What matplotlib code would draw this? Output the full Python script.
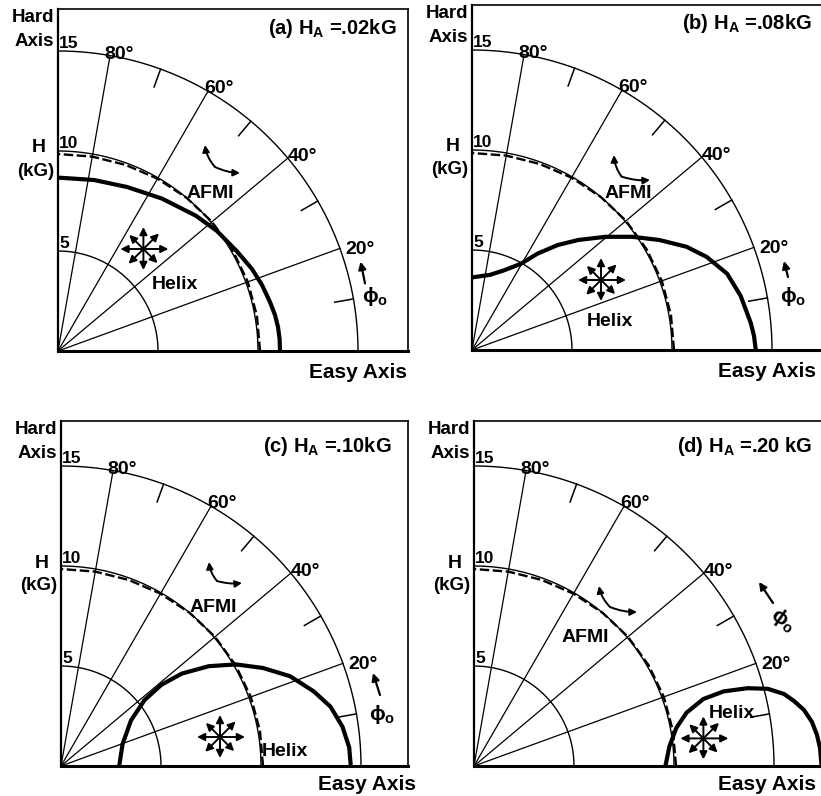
import numpy as np
import matplotlib.pyplot as plt
from matplotlib.patches import FancyArrowPatch

plt.rcParams['font.family'] = ['Liberation Sans', 'DejaVu Sans']
plt.rcParams['font.weight'] = 'bold'
plt.rcParams['mathtext.fontset'] = 'custom'
plt.rcParams['mathtext.rm'] = 'Liberation Sans:bold'
plt.rcParams['mathtext.it'] = 'Liberation Sans:bold'
plt.rcParams['mathtext.bf'] = 'Liberation Sans:bold'

W, H = 821, 796
SCALE = 20.0  # pixels per kG

# polar grid
rings = [5, 10, 15]
ring_labels = ["5", "10", "15"]
spokes = [20, 40, 60, 80]
spoke_labels = ["20°", "40°", "60°", "80°"]
minor_ticks = [10, 30, 50, 70]

# AFMI boundary (dashed), H in kG against field angle
afmi_deg = [0, 10, 20, 30, 40, 50, 60, 70, 80, 90]
afmi_r = [10.1, 10.1, 10.1, 10.08, 10.05, 10.0, 9.95, 9.9, 9.87, 9.85]

# helix boundary (thick), easy / hard components in kG
a_hx = [0.0, 1.8, 3.45, 5.2, 6.9, 7.95, 8.95, 9.7, 10.2, 10.6, 10.85, 11.0, 11.08, 11.1]
a_hy = [8.67, 8.55, 8.2, 7.62, 6.76, 6.0, 4.98, 4.1, 3.3, 2.45, 1.8, 1.2, 0.6, 0.0]

b_hx = [0.0, 0.91, 1.59, 2.44, 3.28, 4.29, 5.31, 6.67, 8.02, 9.37, 10.73, 11.74, 12.76, 13.43, 13.94, 14.1, 14.19]
b_hy = [3.63, 3.76, 3.98, 4.31, 4.82, 5.25, 5.5, 5.66, 5.66, 5.5, 5.16, 4.65, 3.81, 2.71, 1.35, 0.7, 0.0]

c_hx = [2.91, 3.08, 3.5, 4.18, 5.02, 6.04, 7.39, 8.75, 10.1, 11.45, 12.64, 13.48, 14.08, 14.41, 14.49]
c_hy = [0.0, 1.1, 2.28, 3.3, 4.06, 4.62, 4.99, 5.08, 4.9, 4.49, 3.73, 2.96, 1.95, 0.93, 0.0]

d_hx = [9.57, 9.77, 10.12, 10.63, 11.47, 12.48, 13.67, 14.69, 15.5, 16.0, 16.5, 16.9, 17.15, 17.3, 17.38]
d_hy = [0.0, 0.98, 1.91, 2.67, 3.35, 3.73, 3.89, 3.86, 3.6, 3.25, 2.8, 2.2, 1.55, 0.9, 0.0]

helix_x = [a_hx, b_hx, c_hx, d_hx]
helix_y = [a_hy, b_hy, c_hy, d_hy]

titles = [r"(a) $\mathregular{H_A}$ =.02kG", r"(b) $\mathregular{H_A}$ =.08kG",
          r"(c) $\mathregular{H_A}$ =.10kG", r"(d) $\mathregular{H_A}$ =.20 kG"]

# panel frames in pixels: origin (x, y from top), top edge, right edge
origins = [(58, 351), (472, 350), (61, 766), (474, 766)]
tops = [9, 5, 421, 421]
rights = [408, 830, 408, 830]

# annotation spots (kG)
title_xy = [(16.95, 16.15), (17.0, 16.3), (16.55, 15.95), (16.9, 15.95)]
easy_xy = [(15.0, -1.1), (14.75, -1.1), (15.3, -0.95), (14.65, -0.95)]
afmi_xy = [(7.6, 7.9), (7.8, 7.8), (7.6, 7.95), (5.55, 6.45)]
helix_xy = [(5.85, 3.3), (6.9, 1.4), (11.2, 0.75), (12.9, 2.65)]
star_xy = [(4.27, 5.1), (6.45, 3.5), (7.95, 1.45), (11.47, 1.38)]
bend_v = [(7.85, 9.2), (7.48, 8.67), (7.8, 9.25), (6.8, 7.95)]
bend_h1 = [(7.35, 10.3), (7.1, 9.75), (7.4, 10.2), (6.25, 9.0)]
bend_h2 = [(9.1, 8.9), (8.9, 8.5), (9.05, 9.15), (8.15, 7.7)]
phi_tail = [(15.35, 3.38), (15.8, 3.65), (15.95, 3.55), (14.95, 8.15)]
phi_head = [(15.13, 4.47), (15.6, 4.45), (15.6, 4.65), (14.25, 9.2)]
phi_txt = [(15.85, 2.7), (16.05, 2.65), (16.05, 2.55), (15.45, 7.3)]
phi_rot = [0, 0, 0, -35]

star_deg = [0, 45, 90, 135, 180, 225, 270, 315]
star_len = [1.25, 1.1, 1.1, 1.0, 1.15, 1.05, 1.05, 1.0]

spoke_dx = [0.25, 0.0, -0.2, -0.3]
spoke_dy = [-0.3, -0.15, -0.1, -0.15]

fig = plt.figure(figsize=(W / 100, H / 100), dpi=100)

t = np.linspace(0, np.pi / 2, 200)

for i in range(4):
    ox, oy = origins[i]
    xmax = (rights[i] - ox) / SCALE
    ymax = (oy - tops[i]) / SCALE
    ax = fig.add_axes([ox / W, 1 - oy / H, (rights[i] - ox) / W, (oy - tops[i]) / H])
    ax.set_xlim(0, xmax)
    ax.set_ylim(0, ymax)
    ax.set_xticks([])
    ax.set_yticks([])
    for side in ["top", "right"]:
        ax.spines[side].set_linewidth(1.2)
    ax.spines["left"].set_linewidth(1.6)
    ax.spines["bottom"].set_linewidth(2.2)

    # rings, spokes and ticks
    for r in rings:
        ax.plot(r * np.cos(t), r * np.sin(t), color="k", lw=1.0)
    for d in spokes:
        a = np.radians(d)
        ax.plot([0, 15 * np.cos(a)], [0, 15 * np.sin(a)], color="k", lw=0.9)
    for d in minor_ticks:
        a = np.radians(d)
        ax.plot([14.05 * np.cos(a), 15 * np.cos(a)], [14.05 * np.sin(a), 15 * np.sin(a)], color="k", lw=1.1)
    for d, lab, dx, dy in zip(spokes, spoke_labels, spoke_dx, spoke_dy):
        a = np.radians(d)
        ax.text(15 * np.cos(a) + dx, 15 * np.sin(a) + dy, lab, fontsize=14,
                ha="left", va="baseline", clip_on=False)
    for r, lab in zip(rings, ring_labels):
        ax.text(0.05, r + 0.15, lab, fontsize=12.5, ha="left", va="baseline")

    # phase boundaries
    ad = np.radians(afmi_deg)
    ax.plot(np.array(afmi_r) * np.cos(ad), np.array(afmi_r) * np.sin(ad),
            color="k", lw=1.7, ls=(0, (4, 1.5)))
    ax.plot(helix_x[i], helix_y[i], color="k", lw=3.0, solid_capstyle="butt")

    # labels
    ax.text(*title_xy[i], titles[i], fontsize=14.5, ha="right", va="center")
    ax.text(*easy_xy[i], "Easy Axis", fontsize=15, ha="center", va="center", clip_on=False)
    ax.text(-0.2, ymax - 0.45, "Hard", fontsize=13.5, ha="right", va="center", clip_on=False)
    ax.text(-0.2, ymax - 1.65, "Axis", fontsize=13.5, ha="right", va="center", clip_on=False)
    ax.text(-0.95, 10.15, "H", fontsize=14, ha="center", va="center", clip_on=False)
    ax.text(-1.1, 9.0, "(kG)", fontsize=13.5, ha="center", va="center", clip_on=False)
    ax.text(*afmi_xy[i], "AFMI", fontsize=14, ha="center", va="center")
    ax.text(*helix_xy[i], "Helix", fontsize=14, ha="center", va="center")

    # helix spin star
    cx, cy = star_xy[i]
    for d, L in zip(star_deg, star_len):
        a = np.radians(d)
        ax.annotate("", xy=(cx + L * np.cos(a), cy + L * np.sin(a)), xytext=(cx, cy),
                    arrowprops=dict(arrowstyle="-|>", color="k", lw=1.4,
                                    mutation_scale=11, shrinkA=0, shrinkB=0))

    # AFMI spin pair
    ax.add_patch(FancyArrowPatch(bend_v[i], bend_h1[i], arrowstyle="-|>", mutation_scale=10,
                                 connectionstyle="arc3,rad=-0.15", color="k", lw=1.4,
                                 shrinkA=0, shrinkB=0))
    ax.add_patch(FancyArrowPatch(bend_v[i], bend_h2[i], arrowstyle="-|>", mutation_scale=10,
                                 connectionstyle="arc3,rad=0.1", color="k", lw=1.4,
                                 shrinkA=0, shrinkB=0))

    # phi_0 direction
    ax.annotate("", xy=phi_head[i], xytext=phi_tail[i],
                arrowprops=dict(arrowstyle="-|>", color="k", lw=1.6,
                                mutation_scale=11, shrinkA=0, shrinkB=0))
    ax.text(*phi_txt[i], r"$\phi_\mathrm{o}$", fontsize=15, ha="center", va="center",
            rotation=phi_rot[i], clip_on=False)

fig.savefig("out.png", dpi=100, facecolor="white")
